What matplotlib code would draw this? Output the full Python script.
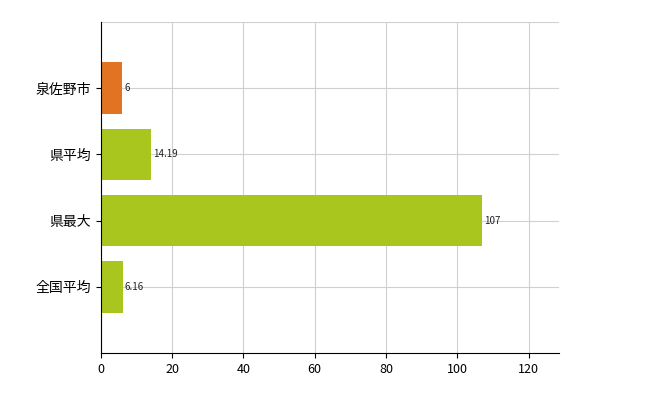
import matplotlib
matplotlib.use("Agg")
import matplotlib.pyplot as plt

plt.rcParams['font.family'] = ['Noto Sans CJK JP', 'DejaVu Sans']

categories = ["泉佐野市", "県平均", "県最大", "全国平均"]
values = [6, 14.19, 107, 6.16]
labels = ["6", "14.19", "107", "6.16"]
colors = ["#e07422", "#a9c61e", "#a9c61e", "#a9c61e"]

fig = plt.figure(figsize=(6.5, 4.0), dpi=100)
ax = fig.add_axes([0.155, 0.1175, 0.705, 0.8275])

pos = list(range(1, len(categories) + 1))
ax.barh(pos, values, height=0.78, color=colors, zorder=2)
for p, v, t in zip(pos, values, labels):
    ax.text(v + 0.6, p, t, va="center", ha="left", fontsize=7, color="#222222")

ax.set_ylim(5, 0)
ax.set_xlim(0, 128.5)
ax.set_yticks(pos)
ax.set_yticklabels(categories, fontsize=10)
ax.set_xticks(range(0, 121, 20))
ax.tick_params(axis="x", labelsize=9)
ax.set_yticks([0, 1, 2, 3, 4], minor=True)
ax.grid(True, which="major", color="#d0d0d0", linewidth=0.8, zorder=0)
ax.grid(True, which="minor", axis="y", color="#d0d0d0", linewidth=0.8, zorder=0)
ax.tick_params(which="minor", length=0)
for s in ["top", "right"]:
    ax.spines[s].set_visible(False)

fig.savefig("out.png")
